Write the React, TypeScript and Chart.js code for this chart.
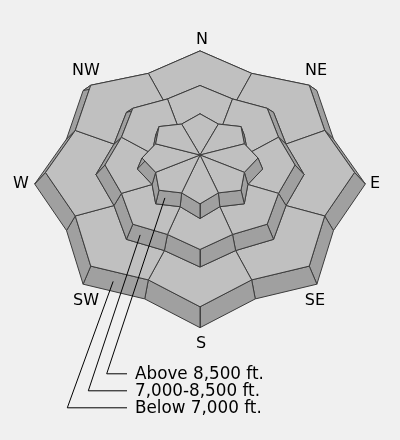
import { useEffect, useRef } from 'react';
import { Chart, registerables } from 'chart.js';

Chart.register(...registerables);

const DIRECTIONS = ['N', 'NE', 'E', 'SE', 'S', 'SW', 'W', 'NW'];
const BANDS = ['Above 8,500 ft.', '7,000-8,500 ft.', 'Below 7,000 ft.'];

// danger rating per aspect, N..NW (0 = no rating)
const ABOVE_8500 = [0, 0, 0, 0, 0, 0, 0, 0];
const MID_7000_8500 = [0, 0, 0, 0, 0, 0, 0, 0];
const BELOW_7000 = [0, 0, 0, 0, 0, 0, 0, 0];
const RATINGS = [ABOVE_8500, MID_7000_8500, BELOW_7000];

const FACE = ['#c0c0c0', '#50b848', '#fff200', '#f7941e', '#ed1c24', '#231f20'];
const WALL = ['#a0a0a0', '#3d8c37', '#c8be00', '#c4731a', '#b8141b', '#000000'];
const LINE = '#3c3c3c';
const BG = '#f0f0f0';

const CX = 200;
const APEX = { x: 200, y: 155 };
const PERSP = 0.00032;
// step geometry, same order as BANDS (top tier first)
const TIERS = [
  { R: 58, r: 48, cy: 158, ky: 0.776, spread: 1.08, drop: 11 },
  { R: 95, r: 85, cy: 165, ky: 0.863, spread: 1.095, drop: 9.5 },
  { R: 154.5, r: 135, cy: 172.5, ky: 0.828, spread: 1.07, drop: 11.5 },
];

const LABEL_POS = [[202, 39], [316, 70], [375, 183], [315, 300], [201, 343], [86, 300], [21, 183], [86, 70]];
const LEGEND_X = 135;
const LEGEND_BASE = [379.3, 396.3, 413.3];
const LEADER_X = [106.7, 88.3, 67.3];
const LEADER_AT = [0.32, 0.29, 0.44];

function proj(b: number, k: number, bottom: boolean) {
  const t = TIERS[b];
  const kk = ((k % 16) + 16) % 16;
  const a = (kk * Math.PI) / 8;
  const rho = kk % 2 === 0 ? t.R : t.r;
  const X = rho * Math.sin(a);
  const Y = rho * Math.cos(a);
  const s = bottom ? t.spread : 1;
  const base = bottom ? t.cy + t.drop : t.cy;
  return { x: CX + s * X, y: base + s * t.ky * (-Y + PERSP * Y * Y) };
}

function buildDatasets() {
  const ds: any[] = [];
  let order = 1000;
  const poly = (pts: { x: number; y: number }[], color: string) => {
    ds.push({
      data: [...pts, pts[0]],
      showLine: true,
      fill: 'shape',
      backgroundColor: color,
      borderColor: LINE,
      borderWidth: 1,
      borderJoinStyle: 'bevel',
      pointRadius: 0,
      order: order--,
    });
  };

  for (let b = TIERS.length - 1; b >= 0; b--) {
    const top = (k: number) => proj(b, k, false);
    const bot = (k: number) => proj(b, k, true);
    for (let k = 0; k < 16; k++) {
      const sector = k % 2 === 0 ? k / 2 : ((k + 1) / 2) % 8;
      poly([top(k), top(k + 1), bot(k + 1), bot(k)], WALL[RATINGS[b][sector]]);
    }
    for (let d = 0; d < 8; d++) {
      const outer = [top(2 * d - 1), top(2 * d), top(2 * d + 1)];
      const inner = b === 0
        ? [APEX]
        : [proj(b - 1, 2 * d + 1, true), proj(b - 1, 2 * d, true), proj(b - 1, 2 * d - 1, true)];
      poly([...outer, ...inner], FACE[RATINGS[b][d]]);
    }
  }

  BANDS.forEach((_, b) => {
    const mid = (k: number) => {
      const p = proj(b, k, false);
      const q = proj(b, k, true);
      return { x: (p.x + q.x) / 2, y: (p.y + q.y) / 2 };
    };
    const v = mid(10);
    const n = mid(9);
    const f = LEADER_AT[b];
    const y = LEGEND_BASE[b] - 5.5;
    ds.push({
      data: [
        { x: v.x + (n.x - v.x) * f, y: v.y + (n.y - v.y) * f },
        { x: LEADER_X[b], y },
        { x: LEGEND_X - 8, y },
      ],
      showLine: true,
      fill: false,
      borderColor: '#000000',
      borderWidth: 1,
      pointRadius: 0,
      order: order--,
    });
  });
  return ds;
}

export default function App() {
  const chartRef = useRef<HTMLCanvasElement>(null);
  const chartInstance = useRef<Chart | null>(null);

  useEffect(() => {
    document.body.style.margin = '0';
    document.body.style.background = BG;
    if (chartRef.current) {
      const ctx = chartRef.current.getContext('2d');
      if (ctx) {
        chartInstance.current = new Chart(ctx, {
          type: 'scatter',
          data: { datasets: buildDatasets() },
          options: {
            animation: false,
            responsive: false,
            events: [],
            layout: { padding: 0 },
            plugins: { legend: { display: false }, tooltip: { enabled: false } },
            scales: {
              x: { type: 'linear', min: 0, max: 400, display: false },
              y: { type: 'linear', min: 0, max: 440, reverse: true, display: false },
            },
          },
        } as any);
      }
    }
    return () => {
      chartInstance.current?.destroy();
    };
  }, []);

  return (
    <div style={{ position: 'relative', width: 400, height: 440, background: BG, fontFamily: '"DejaVu Sans", sans-serif', color: '#000' }}>
      <canvas ref={chartRef} width={400} height={440} style={{ display: 'block', position: 'absolute', left: 0, top: 0 }}></canvas>
      {DIRECTIONS.map((d, i) => (
        <div key={d} style={{ position: 'absolute', left: LABEL_POS[i][0], top: LABEL_POS[i][1], transform: 'translate(-50%, -50%)', fontSize: 16, lineHeight: 1, whiteSpace: 'nowrap' }}>{d}</div>
      ))}
      {BANDS.map((band, i) => (
        <div key={band} style={{ position: 'absolute', left: LEGEND_X, top: LEGEND_BASE[i] - 15.9, fontSize: 16.8, lineHeight: '20px', whiteSpace: 'nowrap' }}>{band}</div>
      ))}
    </div>
  );
}
